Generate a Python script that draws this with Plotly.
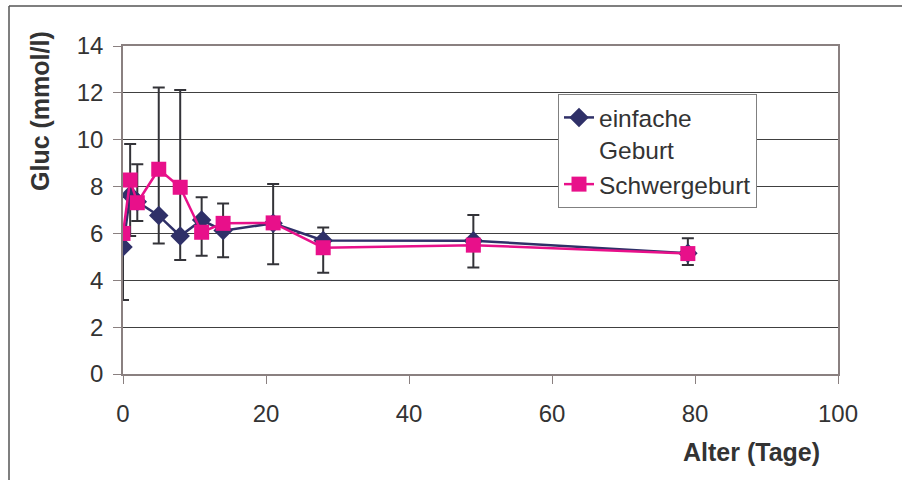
import plotly.graph_objects as go

# ---- data ----
alter_tage = [0, 1, 2, 5, 8, 11, 14, 21, 28, 49, 79]
einfache_geburt = [5.42, 7.64, 7.35, 6.76, 5.89, 6.57, 6.12, 6.43, 5.70, 5.69, 5.15]
schwergeburt = [6.00, 8.28, 7.31, 8.74, 7.97, 6.05, 6.43, 6.45, 5.39, 5.50, 5.14]
fehler_oben = [6.00, 9.82, 8.95, 12.23, 12.12, 7.54, 7.28, 8.11, 6.25, 6.79, 5.79]
fehler_unten = [3.16, 5.89, 6.53, 5.57, 4.87, 5.05, 4.98, 4.68, 4.32, 4.55, 4.65]
x_ticks = [0, 20, 40, 60, 80, 100]
y_ticks = [0, 2, 4, 6, 8, 10, 12, 14]

NAVY = "#2F3068"
PINK = "#E8108A"
FONT = "Liberation Sans, Arial, sans-serif"
TXT = "#333333"

err_plus = [t - y for t, y in zip(fehler_oben, einfache_geburt)]
err_minus = [y - b for b, y in zip(fehler_unten, einfache_geburt)]

fig = go.Figure()
fig.add_trace(go.Scatter(
    x=alter_tage, y=einfache_geburt, name="einfache<br>Geburt",
    mode="lines+markers",
    line=dict(color=NAVY, width=2.5),
    marker=dict(symbol="diamond", size=15, color=NAVY),
    error_y=dict(type="data", symmetric=False, array=err_plus, arrayminus=err_minus,
                 color="#333338", thickness=2, width=6),
))
fig.add_trace(go.Scatter(
    x=alter_tage, y=schwergeburt, name="Schwergeburt",
    mode="lines+markers",
    line=dict(color=PINK, width=2.5),
    marker=dict(symbol="square", size=15, color=PINK),
))

L, R, T, B = 123, 64, 46, 106
W, H = 902, 480
pw, ph = W - L - R, H - T - B

def px(xp):
    return (xp - L) / pw

def py(yp):
    return (H - B - yp) / ph

fig.update_layout(
    width=W, height=H,
    margin=dict(l=L, r=R, t=T, b=B),
    paper_bgcolor="white", plot_bgcolor="white",
    font=dict(family=FONT, size=24, color=TXT),
    showlegend=True,
    legend=dict(
        x=px(558), y=py(94), xanchor="left", yanchor="top",
        bgcolor="white", bordercolor="#808080", borderwidth=1,
        font=dict(size=24.5, color=TXT), valign="top",
        tracegroupgap=0,
    ),
    xaxis=dict(
        range=[0, 100], tickvals=x_ticks, showgrid=False, zeroline=False,
        showline=True, linecolor="#8A8080", linewidth=1.5, mirror=True,
        ticks="outside", ticklen=8, tickcolor="#8A8080", ticklabelstandoff=9,
        tickfont=dict(size=24, color=TXT),
    ),
    yaxis=dict(
        range=[0, 14], tickvals=y_ticks, showgrid=True, gridcolor="#404040", gridwidth=1,
        zeroline=False, showline=True, linecolor="#8A8080", linewidth=1.5, mirror=True,
        ticks="outside", ticklen=8, tickcolor="#8A8080", ticklabelstandoff=5,
        tickfont=dict(size=24, color=TXT),
    ),
    annotations=[
        dict(text="<b>Alter (Tage)</b>", x=px(751), y=py(452), xref="paper", yref="paper",
             showarrow=False, font=dict(size=25, color=TXT), xanchor="center", yanchor="middle"),
        dict(text="<b>Gluc (mmol/l)</b>", x=px(40), y=py(111), xref="paper", yref="paper",
             showarrow=False, textangle=-90, font=dict(size=25, color=TXT),
             xanchor="center", yanchor="middle"),
    ],
    shapes=[
        dict(type="line", xref="paper", yref="paper", x0=px(9), x1=px(902), y0=py(6), y1=py(6),
             line=dict(color="#555555", width=1.5)),
        dict(type="line", xref="paper", yref="paper", x0=px(9), x1=px(9), y0=py(6), y1=py(480),
             line=dict(color="#555555", width=1.5)),
    ],
)

fig.write_html(
    "out.html",
    config={"displayModeBar": False},
    post_script="document.body.style.margin='0';document.body.style.overflow='hidden';",
)
